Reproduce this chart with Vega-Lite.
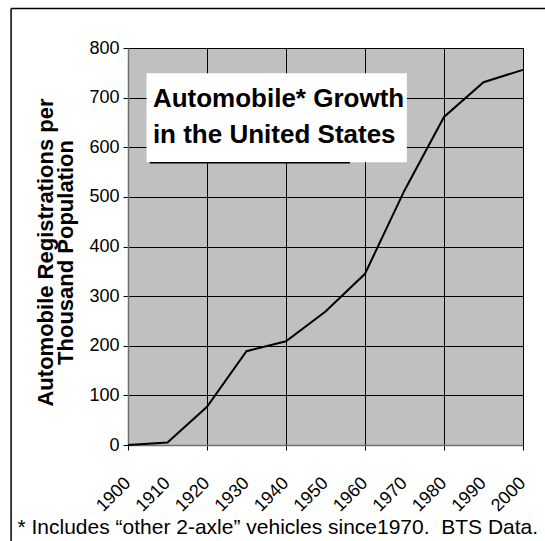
{
  "$schema": "https://vega.github.io/schema/vega-lite/v6.json",
  "autosize": "none",
  "width": 395,
  "height": 397,
  "padding": {"left": 128, "top": 48, "right": 22, "bottom": 96},
  "background": "white",
  "data": {
    "values": [
      {"year": 1900, "registrations": 0},
      {"year": 1910, "registrations": 5},
      {"year": 1920, "registrations": 77},
      {"year": 1930, "registrations": 189},
      {"year": 1940, "registrations": 209},
      {"year": 1950, "registrations": 269},
      {"year": 1960, "registrations": 345},
      {"year": 1970, "registrations": 513},
      {"year": 1980, "registrations": 661},
      {"year": 1990, "registrations": 731},
      {"year": 2000, "registrations": 756}
    ]
  },
  "config": {
    "view": {"fill": "#c0c0c0", "stroke": "#808080", "strokeWidth": 1},
    "font": "Liberation Sans",
    "axis": {
      "gridColor": "#000000",
      "gridWidth": 1,
      "gridOpacity": 1,
      "domainColor": "#707070",
      "domainWidth": 1.5,
      "tickColor": "#000000",
      "tickSize": 5,
      "tickWidth": 1,
      "labelFont": "Liberation Sans",
      "labelFontSize": 18,
      "labelColor": "#000000",
      "labelOverlap": false,
      "labelBound": false,
      "labelFlush": false,
      "titleColor": "#000000",
      "titleFont": "Liberation Sans"
    }
  },
  "layer": [
    {
      "mark": {"type": "line", "color": "#000000", "strokeWidth": 2},
      "encoding": {
        "x": {
          "field": "year",
          "type": "quantitative",
          "scale": {"domain": [1900, 2000], "nice": false, "zero": false},
          "axis": {
            "values": [1900, 1910, 1920, 1930, 1940, 1950, 1960, 1970, 1980, 1990, 2000],
            "labels": false,
            "title": "* Includes \u201cother 2-axle\u201d vehicles since1970.\u00a0 BTS Data.",
            "titleFontSize": 21,
            "titleFontWeight": "normal",
            "titleAlign": "left",
            "titleBaseline": "alphabetic",
            "titleX": -111,
            "titleY": 88
          }
        },
        "y": {
          "field": "registrations",
          "type": "quantitative",
          "scale": {"domain": [0, 800], "nice": false},
          "axis": {
            "values": [0, 100, 200, 300, 400, 500, 600, 700, 800],
            "labelPadding": 4,
            "title": ["Automobile Registrations per", "Thousand Population"],
            "titleFontSize": 22,
            "titleFontWeight": "bold",
            "titleLineHeight": 20,
            "titleBaseline": "alphabetic",
            "titleAlign": "center",
            "titleAngle": -90,
            "titleX": -76,
            "titleY": 204
          }
        }
      }
    },
    {
      "mark": {
        "type": "text",
        "angle": -45,
        "align": "right",
        "baseline": "middle",
        "font": "Liberation Sans",
        "fontSize": 18,
        "color": "#000000"
      },
      "encoding": {
        "x": {"field": "year", "type": "quantitative", "scale": {"domain": [1900, 2000], "nice": false, "zero": false}},
        "y": {"datum": -72, "type": "quantitative", "scale": {"domain": [0, 800], "nice": false}},
        "text": {"field": "year", "type": "quantitative", "format": "d"}
      }
    },
    {
      "data": {"values": [{}]},
      "mark": {"type": "rect", "fill": "#ffffff"},
      "encoding": {
        "x": {"datum": 1904.7, "type": "quantitative", "scale": {"domain": [1900, 2000], "nice": false, "zero": false}},
        "x2": {"datum": 1970.6},
        "y": {"datum": 749, "type": "quantitative", "scale": {"domain": [0, 800], "nice": false}},
        "y2": {"datum": 570}
      }
    },
    {
      "data": {"values": [{}]},
      "mark": {"type": "rule", "color": "#000000", "strokeWidth": 1.5},
      "encoding": {
        "x": {"datum": 1905.5, "type": "quantitative", "scale": {"domain": [1900, 2000], "nice": false, "zero": false}},
        "x2": {"datum": 1956.2},
        "y": {"datum": 568.6, "type": "quantitative", "scale": {"domain": [0, 800], "nice": false}}
      }
    },
    {
      "data": {"values": [{}]},
      "mark": {
        "type": "text",
        "align": "left",
        "baseline": "alphabetic",
        "font": "Liberation Sans",
        "fontWeight": "bold",
        "fontSize": 26,
        "lineHeight": 36,
        "color": "#000000"
      },
      "encoding": {
        "x": {"datum": 1906.3, "type": "quantitative", "scale": {"domain": [1900, 2000], "nice": false, "zero": false}},
        "y": {"datum": 681, "type": "quantitative", "scale": {"domain": [0, 800], "nice": false}},
        "text": {"value": ["Automobile* Growth", "in the United States"]}
      }
    },
    {
      "data": {"values": [{}]},
      "mark": {"type": "rule", "color": "#000000", "strokeWidth": 1.5},
      "encoding": {
        "x": {"datum": 1870.4, "type": "quantitative", "scale": {"domain": [1900, 2000], "nice": false, "zero": false}},
        "y": {"datum": 879.6, "type": "quantitative", "scale": {"domain": [0, 800], "nice": false}},
        "y2": {"datum": -210}
      }
    },
    {
      "data": {"values": [{}]},
      "mark": {"type": "rule", "color": "#000000", "strokeWidth": 1.5},
      "encoding": {
        "x": {"datum": 1870.4, "type": "quantitative", "scale": {"domain": [1900, 2000], "nice": false, "zero": false}},
        "x2": {"datum": 2010},
        "y": {"datum": 879.6, "type": "quantitative", "scale": {"domain": [0, 800], "nice": false}}
      }
    }
  ]
}
